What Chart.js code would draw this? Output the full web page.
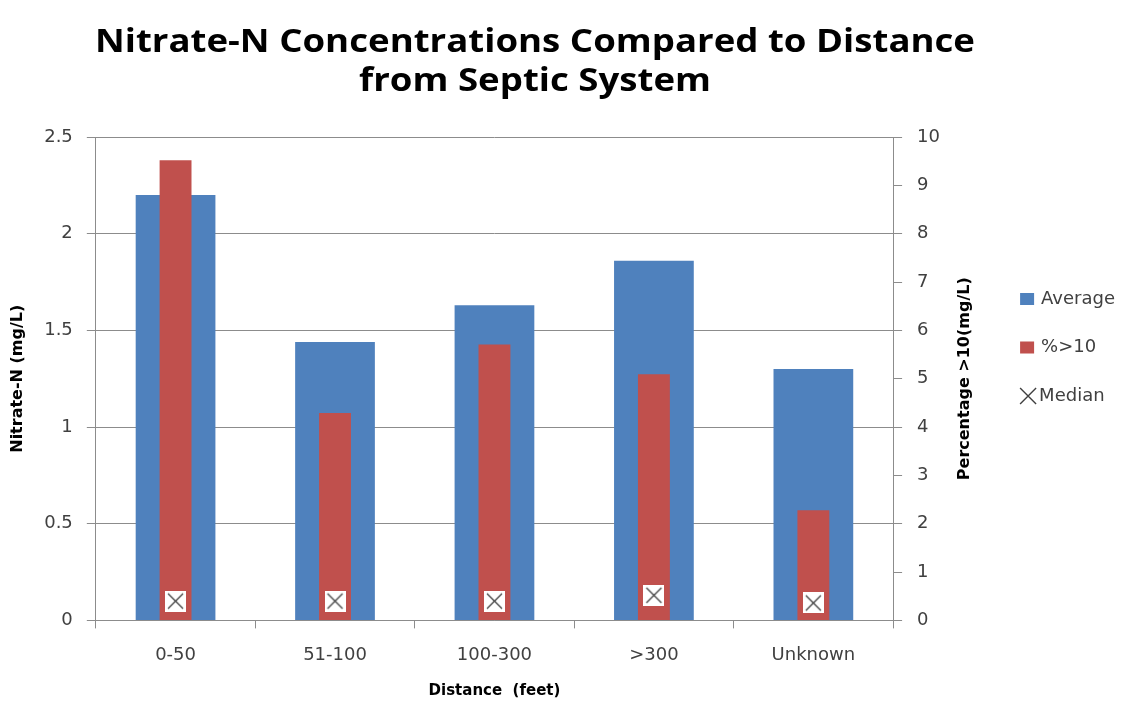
<!DOCTYPE html>
<html>
<head>
<meta charset="utf-8">
<script src="https://cdn.jsdelivr.net/npm/chart.js@4.4.0/dist/chart.umd.min.js"></script>
<style>
  html, body { margin: 0; padding: 0; background: #fff; }
</style>
</head>
<body>
<canvas id="myChart" width="1128" height="705"></canvas>
<script>
const categories = ["0-50", "51-100", "100-300", ">300", "Unknown"];
const averageValues = [2.2, 1.44, 1.63, 1.86, 1.3];
const percentOver10 = [9.52, 4.29, 5.71, 5.09, 2.28];
const medianValues = [0.1, 0.1, 0.1, 0.13, 0.09];
const leftTicks = [0, 0.5, 1, 1.5, 2, 2.5];
const rightTicks = [0, 1, 2, 3, 4, 5, 6, 7, 8, 9, 10];

const titleLines = ["Nitrate-N Concentrations Compared to Distance", "from Septic System"];
const rightAxisTitle = "Percentage >10(mg/L)";

const gridColor = "#8c8c8c";
const tickColor = "#404040";
const fontFamily = "'DejaVu Sans', sans-serif";
const tickFont = { family: fontFamily, size: 18 };

// white box with an X, like the Excel median marker
function makeMarker() {
  const c = document.createElement("canvas");
  c.width = 21;
  c.height = 21;
  const g = c.getContext("2d");
  g.fillStyle = "#fff";
  g.fillRect(0, 0, 21, 21);
  g.strokeStyle = "#404040";
  g.lineWidth = 1.3;
  g.beginPath();
  g.moveTo(3, 3);
  g.lineTo(18, 18);
  g.moveTo(18, 3);
  g.lineTo(3, 18);
  g.stroke();
  return c;
}

// title, right axis title and legend drawn by hand
const extras = {
  id: "extras",
  afterDraw(chart) {
    const ctx = chart.ctx;
    const area = chart.chartArea;
    ctx.save();
    ctx.fillStyle = "#000";
    ctx.textAlign = "center";
    ctx.textBaseline = "middle";
    ctx.font = "bold 32px 'Open Sans', sans-serif";
    // the reference title is a bit stretched sideways
    const sx = 880 / ctx.measureText(titleLines[0]).width;
    ctx.save();
    ctx.translate(535, 0);
    ctx.scale(sx, 1);
    ctx.fillText(titleLines[0], 0, 43);
    ctx.fillText(titleLines[1], 0, 82);
    ctx.restore();

    ctx.font = "bold 16px " + fontFamily;
    ctx.translate(area.right + 72, (area.top + area.bottom) / 2);
    ctx.rotate(-Math.PI / 2);
    ctx.fillText(rightAxisTitle, 0, 0);
    ctx.restore();

    ctx.save();
    ctx.font = "18px " + fontFamily;
    ctx.textAlign = "left";
    ctx.textBaseline = "middle";
    [0, 1, 2].forEach((i, k) => {
      const ds = chart.data.datasets[i];
      const y = 299 + k * 48.5;
      const x = area.right + 127;
      if (ds.type === "line") {
        ctx.strokeStyle = "#404040";
        ctx.lineWidth = 1.4;
        ctx.beginPath();
        ctx.moveTo(x, y - 8);
        ctx.lineTo(x + 16, y + 8);
        ctx.moveTo(x + 16, y - 8);
        ctx.lineTo(x, y + 8);
        ctx.stroke();
        ctx.fillStyle = tickColor;
        ctx.fillText(ds.label, x + 19, y);
      } else {
        ctx.fillStyle = ds.backgroundColor;
        ctx.fillRect(x, y - 6, 14, 12);
        ctx.fillStyle = tickColor;
        ctx.fillText(ds.label, x + 21, y);
      }
    });
    ctx.restore();
  },
};

const ctx = document.getElementById("myChart").getContext("2d");

const myChart = new Chart(ctx, {
  data: {
    labels: categories,
    datasets: [
      {
        type: "bar",
        label: "Average",
        data: averageValues,
        backgroundColor: "#4F81BD",
        yAxisID: "y",
        grouped: false,
        barPercentage: 0.5,
        categoryPercentage: 1,
        order: 2,
      },
      {
        type: "bar",
        label: "%>10",
        data: percentOver10,
        backgroundColor: "#C0504D",
        yAxisID: "y2",
        grouped: false,
        barPercentage: 0.2,
        categoryPercentage: 1,
        order: 1,
      },
      {
        type: "line",
        label: "Median",
        data: medianValues,
        yAxisID: "y",
        showLine: false,
        pointStyle: makeMarker(),
        pointRadius: 10,
        order: 0,
      },
    ],
  },
  options: {
    responsive: false,
    animation: false,
    devicePixelRatio: 1,
    layout: {
      padding: { top: 137, left: 0, right: 173, bottom: 5 },
    },
    plugins: {
      legend: { display: false },
      title: { display: false },
      tooltip: { enabled: false },
    },
    scales: {
      x: {
        grid: {
          drawOnChartArea: false,
          tickLength: 8,
          color: gridColor,
          offset: true,
        },
        border: { color: gridColor },
        ticks: { color: tickColor, font: tickFont, padding: 16 },
        title: {
          display: true,
          text: "Distance  (feet)",
          color: "#000",
          font: { family: fontFamily, size: 15, weight: "bold" },
          padding: { top: 0, bottom: 0 },
        },
      },
      y: {
        position: "left",
        min: leftTicks[0],
        max: leftTicks[leftTicks.length - 1],
        ticks: {
          stepSize: leftTicks[1] - leftTicks[0],
          color: tickColor,
          font: tickFont,
          padding: 14,
          callback: (v) => String(v),
        },
        grid: { color: gridColor, tickLength: 9 },
        border: { color: gridColor },
        title: {
          display: true,
          text: "Nitrate-N (mg/L)",
          color: "#000",
          font: { family: fontFamily, size: 16, weight: "bold" },
          padding: { top: 8, bottom: 3 },
        },
      },
      y2: {
        position: "right",
        min: rightTicks[0],
        max: rightTicks[rightTicks.length - 1],
        ticks: {
          stepSize: rightTicks[1] - rightTicks[0],
          color: tickColor,
          font: tickFont,
          padding: 15,
          callback: (v) => String(v),
        },
        grid: { drawOnChartArea: false, color: gridColor, tickLength: 9 },
        border: { color: gridColor },
      },
    },
  },
  plugins: [extras],
});
</script>
</body>
</html>
